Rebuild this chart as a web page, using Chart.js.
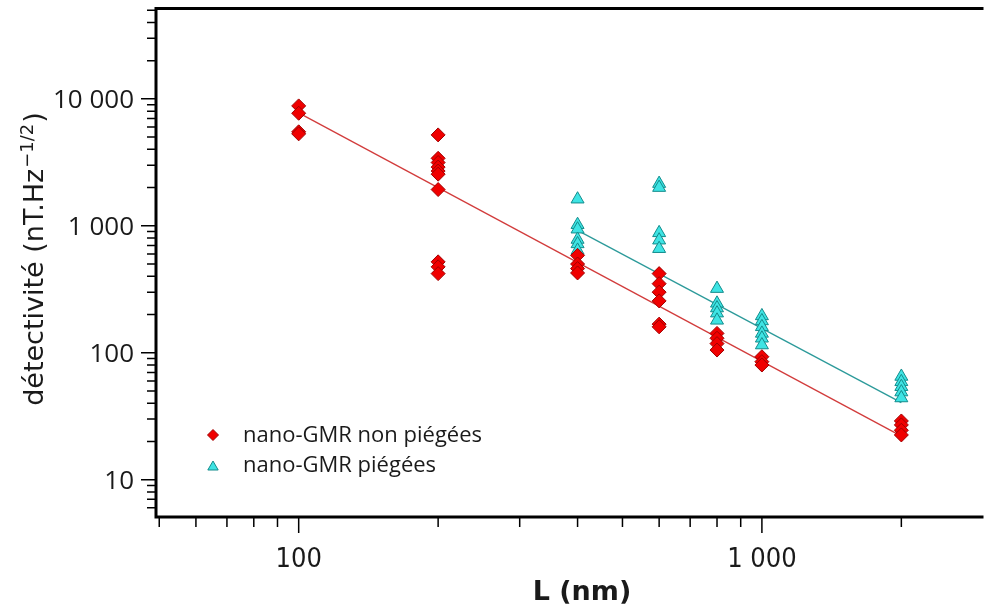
<!DOCTYPE html>
<html>
<head>
<meta charset="utf-8">
<title>Détectivité nano-GMR</title>
<script src="https://cdn.jsdelivr.net/npm/chart.js@4.4.1/dist/chart.umd.min.js"></script>
<style>
  html, body { margin: 0; padding: 0; background: #fff; }
  #wrap { width: 990px; height: 610px; }
</style>
</head>
<body>
<div id="wrap"><canvas id="detChart" width="990" height="610"></canvas></div>
<script>
// Values: L (nm) and detectivity (nT.Hz^-1/2)
const nonPiegeesL = [100, 100, 100, 100,
    200, 200, 200, 200, 200, 200, 200, 200, 200, 200,
    400, 400, 400, 400,
    600, 600, 600, 600, 600, 600,
    800, 800, 800, 800,
    1000, 1000, 1000,
    2000, 2000, 2000, 2000];
const nonPiegeesD = [8800, 7700, 5500, 5300,
    5200, 3400, 3150, 2900, 2700, 2550, 1930, 520, 475, 420,
    585, 500, 460, 425,
    420, 350, 300, 256, 168, 160,
    142, 130, 118, 105,
    93, 85, 80,
    29, 27, 24.5, 22.5];

const piegeesL = [400, 400, 400, 400, 400, 400,
    600, 600, 600, 600, 600,
    800, 800, 800, 800, 800,
    1000, 1000, 1000, 1000, 1000, 1000,
    2000, 2000, 2000, 2000, 2000];
const piegeesD = [1620, 1020, 940, 780, 720, 640,
    2150, 2000, 880, 770, 660,
    320, 245, 225, 205, 180,
    195, 178, 160, 142, 130, 115,
    65, 59, 54, 49, 44];

// fit lines (end points)
const fitNonPiegeesL = [100, 2000];
const fitNonPiegeesD = [7750, 22];
const fitPiegeesL = [400, 2000];
const fitPiegeesD = [920, 40.5];

const seriesNames = ['nano-GMR non piégées', 'nano-GMR piégées'];

// axis ticks
const xMajor = [100, 1000];
const xMajorLabels = ['100', '1 000'];
const xMinor = [50, 60, 70, 80, 90, 200, 300, 400, 500, 600, 700, 800, 900, 2000];
const yMajor = [10, 100, 1000, 10000];
const yMajorLabels = ['10', '100', '1 000', '10 000'];
const yMinor = [6, 7, 8, 9, 20, 30, 40, 50, 60, 70, 80, 90,
    200, 300, 400, 500, 600, 700, 800, 900,
    2000, 3000, 4000, 5000, 6000, 7000, 8000, 9000,
    20000, 30000, 40000, 50000];

const RED = '#f00000', RED_EDGE = '#a00000';
const CYAN = '#3ee4e4', CYAN_EDGE = '#138c8c';

function toPoints(xs, ys) {
    return xs.map((v, i) => ({ x: v, y: ys[i] }));
}

// frame, tick marks, tick labels, axis titles and legend
const axesFrame = {
    id: 'axesFrame',
    afterDraw(chart) {
        const { ctx, chartArea: a, scales: { x, y } } = chart;
        ctx.save();
        ctx.strokeStyle = '#000';
        ctx.lineWidth = 1.5;
        ctx.beginPath();
        yMinor.forEach(v => {
            const p = y.getPixelForValue(v);
            ctx.moveTo(a.left - 9, p); ctx.lineTo(a.left, p);
        });
        yMajor.forEach(v => {
            const p = y.getPixelForValue(v);
            ctx.moveTo(a.left - 15, p); ctx.lineTo(a.left, p);
        });
        xMinor.forEach(v => {
            const p = x.getPixelForValue(v);
            ctx.moveTo(p, a.bottom); ctx.lineTo(p, a.bottom + 10);
        });
        xMajor.forEach(v => {
            const p = x.getPixelForValue(v);
            ctx.moveTo(p, a.bottom); ctx.lineTo(p, a.bottom + 16);
        });
        ctx.stroke();

        ctx.lineWidth = 3;
        ctx.beginPath();
        ctx.moveTo(a.right + 2, a.top);
        ctx.lineTo(a.left, a.top);
        ctx.lineTo(a.left, a.bottom);
        ctx.lineTo(a.right + 2, a.bottom);
        ctx.stroke();

        // tick labels
        ctx.fillStyle = '#1a1a1a';
        ctx.textBaseline = 'alphabetic';
        ctx.font = '26px "Open Sans", sans-serif';
        ctx.textAlign = 'right';
        yMajor.forEach((v, i) => {
            ctx.fillText(yMajorLabels[i], a.left - 22, y.getPixelForValue(v) + 9.5);
        });
        ctx.font = '27px "DejaVu Sans Condensed", "Liberation Sans Narrow", "DejaVu Sans", sans-serif';
        ctx.textAlign = 'center';
        xMajor.forEach((v, i) => {
            ctx.fillText(xMajorLabels[i], x.getPixelForValue(v), 567);
        });

        // x title
        ctx.font = 'bold 27px "DejaVu Sans", sans-serif';
        ctx.fillText('L (nm)', 582, 600);

        // y title with superscript
        const main = 'détectivité (nT.Hz', sup = '\u22121/2', end = ')';
        ctx.save();
        ctx.translate(42.5, 260);
        ctx.rotate(-Math.PI / 2);
        ctx.textAlign = 'left';
        ctx.font = '27px "DejaVu Sans", sans-serif';
        const w1 = ctx.measureText(main).width, w3 = ctx.measureText(end).width;
        ctx.font = '18px "DejaVu Sans", sans-serif';
        const w2 = ctx.measureText(sup).width;
        let cx = -(w1 + w2 + w3) / 2;
        ctx.font = '27px "DejaVu Sans", sans-serif';
        ctx.fillText(main, cx, 0);
        cx += w1;
        ctx.font = '18px "DejaVu Sans", sans-serif';
        ctx.fillText(sup, cx + 1, -10);
        cx += w2 + 2;
        ctx.font = '27px "DejaVu Sans", sans-serif';
        ctx.fillText(end, cx, 0);
        ctx.restore();

        // legend
        const rows = [
            { style: 'rectRot', r: 5.5, fill: RED, edge: RED_EDGE, ty: 441.5, my: 435 },
            { style: 'triangle', r: 6, fill: CYAN, edge: CYAN_EDGE, ty: 471.5, my: 467 }
        ];
        ctx.font = '22px "Open Sans", sans-serif';
        ctx.textAlign = 'left';
        rows.forEach((row, i) => {
            ctx.fillStyle = row.fill;
            ctx.strokeStyle = row.edge;
            ctx.lineWidth = 1;
            Chart.helpers.drawPoint(ctx, { pointStyle: row.style, radius: row.r, rotation: 0, borderWidth: 1 }, 213, row.my);
            ctx.fillStyle = '#1a1a1a';
            ctx.fillText(seriesNames[i], 243, row.ty);
        });
        ctx.restore();
    }
};

const ctx = document.getElementById('detChart').getContext('2d');
const detChart = new Chart(ctx, {
    type: 'scatter',
    data: {
        datasets: [{
            label: seriesNames[0],
            data: toPoints(nonPiegeesL, nonPiegeesD),
            pointStyle: 'rectRot',
            pointRadius: 7,
            backgroundColor: RED,
            borderColor: RED_EDGE,
            borderWidth: 1
        }, {
            label: seriesNames[1],
            data: toPoints(piegeesL, piegeesD),
            pointStyle: 'triangle',
            pointRadius: 7.5,
            backgroundColor: CYAN,
            borderColor: CYAN_EDGE,
            borderWidth: 1
        }, {
            label: 'fit non piégées',
            data: toPoints(fitNonPiegeesL, fitNonPiegeesD),
            showLine: true,
            pointRadius: 0,
            borderColor: '#d23c3c',
            borderWidth: 1.3
        }, {
            label: 'fit piégées',
            data: toPoints(fitPiegeesL, fitPiegeesD),
            showLine: true,
            pointRadius: 0,
            borderColor: '#2c9a9a',
            borderWidth: 1.3
        }]
    },
    options: {
        responsive: false,
        animation: false,
        layout: { padding: { top: 7, right: 0, bottom: 0, left: 0 } },
        plugins: {
            legend: { display: false },
            tooltip: { enabled: false }
        },
        scales: {
            x: {
                type: 'logarithmic',
                min: 49.2,
                max: 2979,
                grid: { display: false, drawTicks: false },
                border: { display: false },
                ticks: { display: false },
                afterFit: s => { s.height = 93; }
            },
            y: {
                type: 'logarithmic',
                min: 5.08,
                max: 51500,
                grid: { display: false, drawTicks: false },
                border: { display: false },
                ticks: { display: false },
                afterFit: s => { s.width = 156; }
            }
        }
    },
    plugins: [axesFrame]
});
</script>
</body>
</html>
